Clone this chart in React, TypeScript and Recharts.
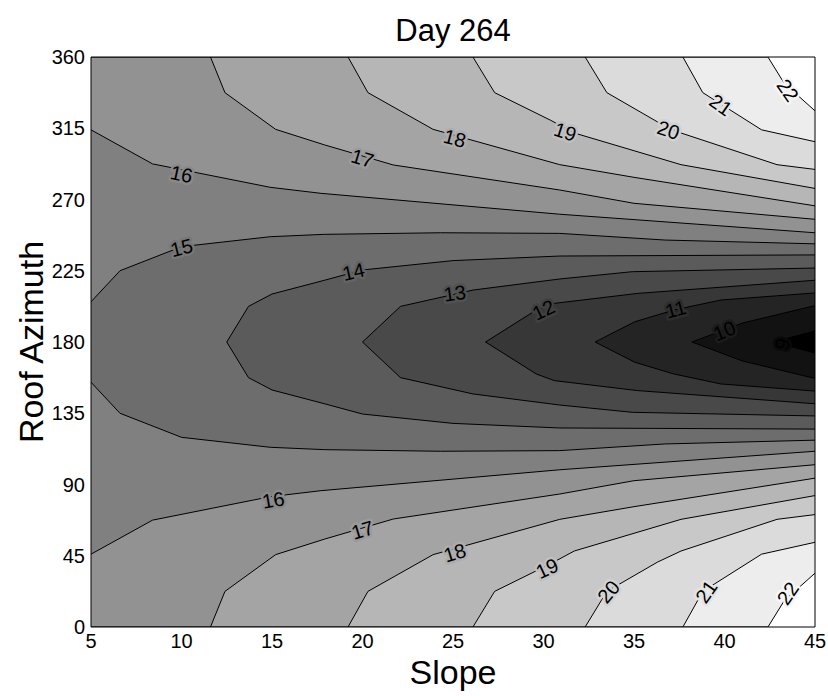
import React from 'react';
import { ComposedChart, Area, XAxis, YAxis, Scatter } from 'recharts';

const FONT = '"Liberation Sans", Arial, Helvetica, sans-serif';

const xTicks = [5, 10, 15, 20, 25, 30, 35, 40, 45];
const yTicks = [0, 45, 90, 135, 180, 225, 270, 315, 360];

type P = { x: number; y: number };

// contour lines, upper half (Roof Azimuth > 180)
const c22Top: P[] = [{ x: 5, y: 360 }, { x: 42.4, y: 360 }, { x: 43.3, y: 343.4 }, { x: 45, y: 326 }];
const c21Top: P[] = [{ x: 5, y: 360 }, { x: 37.7, y: 360 }, { x: 38.8, y: 337.5 }, { x: 42.05, y: 314 }, { x: 45, y: 306.5 }];
const c20Top: P[] = [{ x: 5, y: 360 }, { x: 32.3, y: 360 }, { x: 33.5, y: 337.5 }, { x: 36.3, y: 319 }, { x: 37.6, y: 312 }, { x: 42.9, y: 292 }, { x: 45, y: 289 }];
const c19Top: P[] = [{ x: 5, y: 360 }, { x: 26.1, y: 360 }, { x: 27.3, y: 337.5 }, { x: 30.4, y: 320 }, { x: 31.7, y: 312 }, { x: 37.6, y: 292 }, { x: 45, y: 277 }];
const c18Top: P[] = [{ x: 5, y: 360 }, { x: 19.2, y: 360 }, { x: 20.3, y: 337.5 }, { x: 23.9, y: 314.3 }, { x: 30.9, y: 292 }, { x: 35, y: 284 }, { x: 45, y: 266 }];
const c17Top: P[] = [{ x: 5, y: 360 }, { x: 11.6, y: 360 }, { x: 12.4, y: 337.5 }, { x: 15.2, y: 314.3 }, { x: 17.9, y: 304.5 }, { x: 21.7, y: 291.8 }, { x: 30.9, y: 276 }, { x: 35, y: 267.6 }, { x: 45, y: 257.5 }];
const c16Top: P[] = [{ x: 5, y: 314 }, { x: 8.4, y: 292.5 }, { x: 14.9, y: 277.7 }, { x: 17.7, y: 273.9 }, { x: 30.9, y: 260.7 }, { x: 45, y: 249 }];
const c15Top: P[] = [{ x: 5, y: 205.4 }, { x: 6.6, y: 225 }, { x: 10, y: 240.2 }, { x: 14.9, y: 246.5 }, { x: 17.9, y: 248 }, { x: 24.3, y: 249 }, { x: 30.9, y: 248.6 }, { x: 36.7, y: 244.4 }, { x: 45, y: 242 }];
const c14Top: P[] = [{ x: 12.5, y: 180 }, { x: 13.7, y: 202.5 }, { x: 15, y: 210.3 }, { x: 17.9, y: 219 }, { x: 20, y: 225.5 }, { x: 25, y: 231.4 }, { x: 30.9, y: 234.3 }, { x: 45, y: 235 }];
const c13Top: P[] = [{ x: 20, y: 180 }, { x: 22.1, y: 202.5 }, { x: 26.1, y: 212.8 }, { x: 30.9, y: 219.8 }, { x: 34.9, y: 224.4 }, { x: 45, y: 226.7 }];
const c12Top: P[] = [{ x: 26.8, y: 180 }, { x: 29.6, y: 200.2 }, { x: 30.6, y: 204.4 }, { x: 35.2, y: 210.7 }, { x: 45, y: 219 }];
const c11Top: P[] = [{ x: 32.85, y: 180 }, { x: 35.05, y: 192.8 }, { x: 37.2, y: 200.2 }, { x: 39.8, y: 206.5 }, { x: 45, y: 211 }];
const c10Top: P[] = [{ x: 38.2, y: 180 }, { x: 41, y: 192 }, { x: 45, y: 203 }];
const c9Top: P[] = [{ x: 42.7, y: 180 }, { x: 45, y: 187 }];

// contour lines, lower half (Roof Azimuth < 180)
const c22Bot: P[] = [{ x: 5, y: 0 }, { x: 42.4, y: 0 }, { x: 43.3, y: 16.6 }, { x: 45, y: 34 }];
const c21Bot: P[] = [{ x: 5, y: 0 }, { x: 37.7, y: 0 }, { x: 38.8, y: 22.5 }, { x: 42.05, y: 46 }, { x: 45, y: 53.5 }];
const c20Bot: P[] = [{ x: 5, y: 0 }, { x: 32.3, y: 0 }, { x: 33.5, y: 22.5 }, { x: 36.3, y: 41 }, { x: 37.6, y: 48 }, { x: 42.9, y: 68 }, { x: 45, y: 71 }];
const c19Bot: P[] = [{ x: 5, y: 0 }, { x: 26.1, y: 0 }, { x: 27.3, y: 22.5 }, { x: 30.4, y: 40 }, { x: 31.7, y: 48 }, { x: 37.6, y: 68 }, { x: 45, y: 83 }];
const c18Bot: P[] = [{ x: 5, y: 0 }, { x: 19.2, y: 0 }, { x: 20.3, y: 22.5 }, { x: 23.9, y: 45.7 }, { x: 30.9, y: 68 }, { x: 35, y: 76 }, { x: 45, y: 94 }];
const c17Bot: P[] = [{ x: 5, y: 0 }, { x: 11.6, y: 0 }, { x: 12.4, y: 22.5 }, { x: 15.2, y: 45.7 }, { x: 17.9, y: 55.5 }, { x: 21.7, y: 68.2 }, { x: 30.9, y: 84 }, { x: 35, y: 92.4 }, { x: 45, y: 102.5 }];
const c16Bot: P[] = [{ x: 5, y: 46 }, { x: 8.4, y: 67.5 }, { x: 14.9, y: 82.3 }, { x: 17.7, y: 86.1 }, { x: 30.9, y: 99.3 }, { x: 45, y: 111 }];
const c15Bot: P[] = [{ x: 5, y: 154.6 }, { x: 6.6, y: 135 }, { x: 10, y: 119.8 }, { x: 14.9, y: 113.5 }, { x: 17.9, y: 112 }, { x: 24.3, y: 111 }, { x: 30.9, y: 111.4 }, { x: 36.7, y: 115.6 }, { x: 45, y: 118 }];
const c14Bot: P[] = [{ x: 12.5, y: 180 }, { x: 13.7, y: 157.5 }, { x: 15, y: 149.7 }, { x: 17.9, y: 141 }, { x: 20, y: 134.5 }, { x: 25, y: 128.6 }, { x: 30.9, y: 125.7 }, { x: 45, y: 125 }];
const c13Bot: P[] = [{ x: 20, y: 180 }, { x: 22.1, y: 157.5 }, { x: 26.1, y: 147.2 }, { x: 30.9, y: 140.2 }, { x: 34.9, y: 135.6 }, { x: 45, y: 133.3 }];
const c12Bot: P[] = [{ x: 26.8, y: 180 }, { x: 29.6, y: 159.8 }, { x: 30.6, y: 155.6 }, { x: 35.2, y: 149.3 }, { x: 45, y: 141 }];
const c11Bot: P[] = [{ x: 32.85, y: 180 }, { x: 35.05, y: 167.2 }, { x: 37.2, y: 159.8 }, { x: 39.8, y: 153.5 }, { x: 45, y: 149 }];
const c10Bot: P[] = [{ x: 38.2, y: 180 }, { x: 41, y: 168 }, { x: 45, y: 157 }];
const c9Bot: P[] = [{ x: 42.7, y: 180 }, { x: 45, y: 173 }];

const levels = [22, 21, 20, 19, 18, 17, 16, 15, 14, 13, 12, 11, 10, 9];
const topLines: Record<number, P[]> = {
  22: c22Top, 21: c21Top, 20: c20Top, 19: c19Top, 18: c18Top, 17: c17Top, 16: c16Top,
  15: c15Top, 14: c14Top, 13: c13Top, 12: c12Top, 11: c11Top, 10: c10Top, 9: c9Top,
};
const bottomLines: Record<number, P[]> = {
  22: c22Bot, 21: c21Bot, 20: c20Bot, 19: c19Bot, 18: c18Bot, 17: c17Bot, 16: c16Bot,
  15: c15Bot, 14: c14Bot, 13: c13Bot, 12: c12Bot, 11: c11Bot, 10: c10Bot, 9: c9Bot,
};

// contour labels
const contourLabels = [
  { x: 10.0, y: 286, t: '16' },
  { x: 10.0, y: 239.5, t: '15' },
  { x: 20.0, y: 296, t: '17' },
  { x: 25.1, y: 308.6, t: '18' },
  { x: 31.2, y: 312.8, t: '19' },
  { x: 36.9, y: 313.9, t: '20' },
  { x: 39.8, y: 329.7, t: '21' },
  { x: 43.5, y: 339, t: '22' },
  { x: 19.5, y: 224.4, t: '14' },
  { x: 25.1, y: 210.7, t: '13' },
  { x: 30.0, y: 200.2, t: '12' },
  { x: 37.3, y: 200.6, t: '11' },
  { x: 40.0, y: 187.1, t: '10' },
  { x: 43.2, y: 178.7, t: '9' },
  { x: 15.07, y: 80.2, t: '16' },
  { x: 20.0, y: 61.3, t: '17' },
  { x: 25.1, y: 46.9, t: '18' },
  { x: 30.2, y: 37, t: '19' },
  { x: 33.6, y: 22.3, t: '20' },
  { x: 39.0, y: 22.3, t: '21' },
  { x: 43.5, y: 21.3, t: '22' },
];
const contourLabelAngles = [12, -14, 17, 15, 18, 18, 35, 55, -13, -8, -25, -15, -22, -75, -10, -17, -17, -25, -50, -55, -55];

const bandValue = (level: number) => Math.round(((level - 9) * 255) / 14);
const bandGray = (level: number) => {
  const v = bandValue(level);
  return `rgb(${v},${v},${v})`;
};
const haloGray = (level: number) => {
  const v = Math.round((bandValue(level) + bandValue(level + 1)) / 2);
  return `rgb(${v},${v},${v})`;
};

const LabelShape = (p: any) => {
  const idx = contourLabels.indexOf(p.payload);
  const ang = contourLabelAngles[idx >= 0 ? idx : p.index] || 0;
  const lvl = Number(p.payload.t);
  return (
    <text
      x={p.cx}
      y={p.cy}
      transform={`rotate(${ang} ${p.cx} ${p.cy})`}
      textAnchor="middle"
      dominantBaseline="central"
      fontSize={20}
      fontFamily={FONT}
      fill="#000"
      stroke={haloGray(lvl)}
      strokeWidth={5}
      strokeLinejoin="round"
      style={{ paintOrder: 'stroke' }}
    >
      {p.payload.t}
    </text>
  );
};

export default function App() {
  const tickStyle = { fill: '#000', fontSize: 20, fontFamily: FONT };
  return (
    <div style={{ position: 'absolute', left: 0, top: 0, fontFamily: FONT, background: '#fff' }}>
      <ComposedChart width={828} height={696} margin={{ top: 0, right: 0, bottom: 0, left: 0 }}>
        {levels.flatMap((L) => [
          <Area
            key={'t' + L}
            data={topLines[L]}
            dataKey="y"
            xAxisId="b"
            yAxisId="l"
            type="linear"
            baseValue={180}
            fill={bandGray(L)}
            fillOpacity={1}
            stroke="#000"
            strokeWidth={1}
            dot={false}
            activeDot={false}
            isAnimationActive={false}
          />,
          <Area
            key={'b' + L}
            data={bottomLines[L]}
            dataKey="y"
            xAxisId="b"
            yAxisId="l"
            type="linear"
            baseValue={180}
            fill={bandGray(L)}
            fillOpacity={1}
            stroke="#000"
            strokeWidth={1}
            dot={false}
            activeDot={false}
            isAnimationActive={false}
          />,
        ])}
        <Scatter
          data={contourLabels}
          dataKey="y"
          xAxisId="b"
          yAxisId="l"
          shape={LabelShape}
          isAnimationActive={false}
        />
        <XAxis
          xAxisId="b"
          dataKey="x"
          type="number"
          domain={[5, 45]}
          ticks={xTicks}
          allowDataOverflow
          orientation="bottom"
          height={69}
          tickLine={false}
          tickSize={6}
          tickMargin={1}
          axisLine={{ stroke: '#000' }}
          tick={tickStyle}
          label={{ value: 'Slope', position: 'insideBottom', offset: 12, fontSize: 34, fill: '#000', fontFamily: FONT }}
        />
        <XAxis
          xAxisId="t"
          type="number"
          domain={[5, 45]}
          ticks={xTicks}
          allowDataOverflow
          orientation="top"
          height={57}
          tickLine={false}
          tickFormatter={() => ''}
          axisLine={{ stroke: '#000' }}
          label={{ value: 'Day 264', position: 'center', dy: 1, fontSize: 31, fill: '#000', fontFamily: FONT }}
        />
        <YAxis
          yAxisId="l"
          type="number"
          domain={[0, 360]}
          ticks={yTicks}
          allowDataOverflow
          width={91}
          tickLine={false}
          tickSize={6}
          tickMargin={0}
          axisLine={{ stroke: '#000' }}
          tick={tickStyle}
          label={{ value: 'Roof Azimuth', angle: -90, position: 'center', dx: -15, fontSize: 34, fill: '#000', fontFamily: FONT }}
        />
        <YAxis
          yAxisId="r"
          orientation="right"
          type="number"
          domain={[0, 360]}
          ticks={yTicks}
          allowDataOverflow
          width={13}
          tickLine={false}
          tickFormatter={() => ''}
          axisLine={{ stroke: '#000' }}
        />
      </ComposedChart>
    </div>
  );
}
